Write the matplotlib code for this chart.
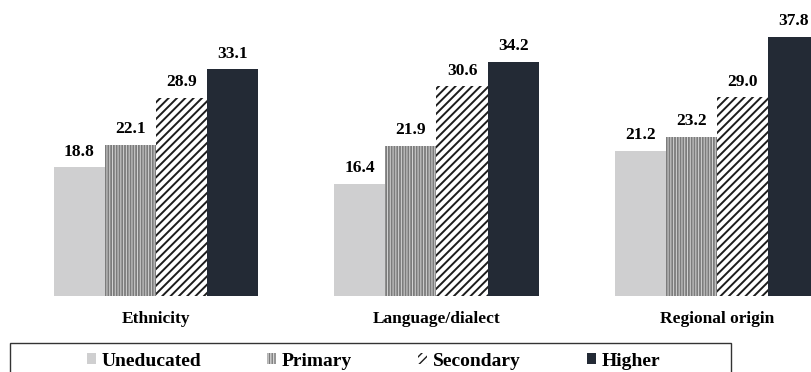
import matplotlib
matplotlib.use("Agg")
from matplotlib import pyplot as plt
from matplotlib.patches import Rectangle
import numpy as np

categories = ["Ethnicity", "Language/dialect", "Regional origin"]
levels = ["Uneducated", "Primary", "Secondary", "Higher"]
uneducated = [18.8, 16.4, 21.2]
primary = [22.1, 21.9, 23.2]
secondary = [28.9, 30.6, 29.0]
higher = [33.1, 34.2, 37.8]

plt.rcParams['font.family'] = ['Liberation Serif', 'DejaVu Serif']
plt.rcParams['font.weight'] = 'bold'

# face, hatch colour, hatch, hatch linewidth
styles = [
    ('#cfcfd0', '#cfcfd0', None, 1.0),
    ('#7c7c7c', '#d4d4d4', '||||||', 0.7),
    ('white', '#1c1c1c', '////', 1.4),
    ('#232a35', '#232a35', None, 1.0),
]

W, H = 812, 372
fig = plt.figure(figsize=(W / 100, H / 100), dpi=100)
ax = fig.add_axes([0, 76 / H, 1, 296 / H])

x = np.arange(len(categories))
width = 0.182
series = [uneducated, primary, secondary, higher]
for i, (vals, lab, st) in enumerate(zip(series, levels, styles)):
    face, hcol, hatch, hlw = st
    with plt.rc_context({'hatch.linewidth': hlw}):
        bars = ax.bar(x + (i - 1.5) * width, vals, width, label=lab,
                      color=face, edgecolor=hcol, hatch=hatch, linewidth=0)
        for b in bars:
            if hasattr(b, 'set_hatch_linewidth'):
                b.set_hatch_linewidth(hlw)
    ax.bar_label(bars, fmt='%.1f', padding=5.5, fontsize=12.5, fontweight='bold')

ax.set_xlim(-156 / 280.5, (W - 156) / 280.5)
ax.set_ylim(0, 43.2)
ax.set_xticks(x, categories, fontsize=12.5, fontweight='bold')
ax.tick_params(axis='x', length=0, pad=11)
ax.set_yticks([])
for s in ax.spines.values():
    s.set_visible(False)

# legend frame, runs off the bottom edge
fig.patches.append(Rectangle((10 / W, -0.2), 721 / W, 0.2 + (H - 343) / H,
                             transform=fig.transFigure, fill=False,
                             edgecolor='#333333', linewidth=1.0))
handles, labels = ax.get_legend_handles_labels()
fig.legend(handles, labels, loc='center', bbox_to_anchor=(373.5 / W, 1 - 361 / H),
           ncol=4, frameon=False, prop={'family': 'Liberation Serif', 'weight': 'bold', 'size': 14},
           handlelength=0.46, handleheight=0.46, handletextpad=0.3,
           columnspacing=3.4, borderpad=0.2)

fig.savefig("out.png", dpi=100)
